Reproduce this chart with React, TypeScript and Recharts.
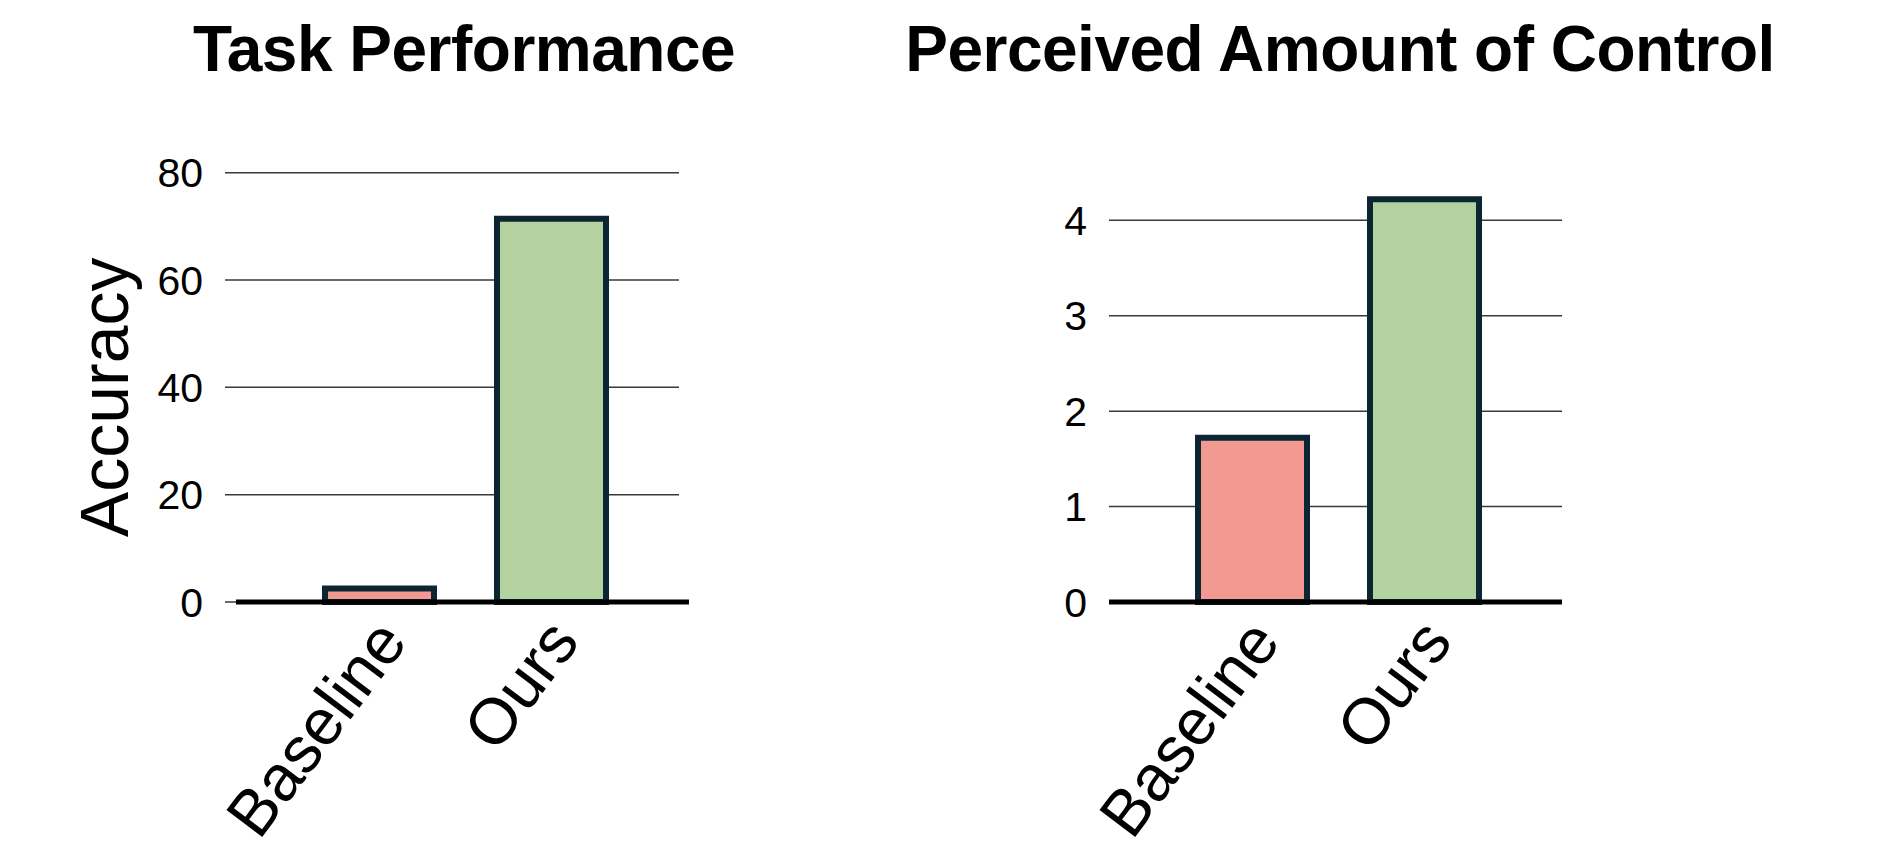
import React from 'react'
import { BarChart, Bar, Cell, XAxis, YAxis, CartesianGrid } from 'recharts'

const categories = ['Baseline', 'Ours']
const accuracyValues = [2.5, 71.4]
const controlValues = [1.72, 4.22]
const accuracyTicks = [0, 20, 40, 60, 80]
const controlTicks = [0, 1, 2, 3, 4]
const barColors = ['#f29a92', '#b3d29f']

const FONT = '"Liberation Sans", Arial, sans-serif'
const BAR_STROKE = '#0b2532'

const toRows = (values: number[]) => categories.map((name, i) => ({ name, value: values[i] }))

const CategoryTick = ({ x, y, payload }: { x?: number; y?: number; payload?: { value: string } }) => (
  <g transform={`translate(${(x ?? 0) + 30},${(y ?? 0) + 40})`}>
    <text
      x={0}
      y={0}
      textAnchor="end"
      transform="rotate(-53)"
      fontFamily={FONT}
      fontSize={65}
      fill="#000"
    >
      {payload?.value}
    </text>
  </g>
)

const YTitle = ({ viewBox, text, cx }: { viewBox?: { y: number; height: number }; text: string; cx: number }) => {
  const cy = (viewBox?.y ?? 0) + (viewBox?.height ?? 0) / 2 + 10
  return (
    <text
      x={cx}
      y={cy}
      textAnchor="middle"
      transform={`rotate(-90 ${cx} ${cy})`}
      fontFamily={FONT}
      fontSize={68}
      fill="#000"
    >
      {text}
    </text>
  )
}

const titleStyle: React.CSSProperties = {
  position: 'absolute',
  top: 17,
  width: 1000,
  textAlign: 'center',
  fontFamily: FONT,
  fontWeight: 700,
  fontSize: 64,
  lineHeight: '64px',
  letterSpacing: -0.5,
  color: '#000',
  whiteSpace: 'nowrap',
}

interface PanelProps {
  values: number[]
  ticks: number[]
  domainMax: number
  left: number
  width: number
  yAxisWidth: number
  marginTop: number
  marginRight: number
  tickGap: number
  yLabel?: string
  grid?: { x: number; width: number }
}

const Panel: React.FC<PanelProps> = ({
  values, ticks, domainMax, left, width, yAxisWidth, marginTop, marginRight, tickGap, yLabel, grid,
}) => (
  <div style={{ position: 'absolute', left, top: 0 }}>
    <BarChart
      width={width}
      height={853}
      data={toRows(values)}
      margin={{ top: marginTop, right: marginRight, bottom: 0, left: 0 }}
      barCategoryGap={0}
    >
      <CartesianGrid
        vertical={false}
        horizontalValues={ticks}
        stroke="#3a3a3a"
        strokeWidth={1.5}
        {...(grid ?? {})}
      />
      <XAxis
        dataKey="name"
        height={251}
        padding={{ left: 57, right: 52 }}
        axisLine={{ stroke: '#000', strokeWidth: 5 }}
        tickLine={false}
        tickSize={0}
        tickMargin={0}
        interval={0}
        tick={<CategoryTick />}
      />
      <YAxis
        width={yAxisWidth}
        domain={[0, domainMax]}
        ticks={ticks}
        axisLine={false}
        tickLine={false}
        tickSize={0}
        tickMargin={tickGap}
        tick={{ fontFamily: FONT, fontSize: 41, fill: '#000' }}
        label={yLabel ? (p: any) => <YTitle {...p} text={yLabel} cx={128} /> : undefined}
      />
      <Bar
        dataKey="value"
        barSize={109}
        stroke={BAR_STROKE}
        strokeWidth={6}
        isAnimationActive={false}
      >
        {values.map((_, i) => (
          <Cell key={categories[i]} fill={barColors[i]} />
        ))}
      </Bar>
    </BarChart>
  </div>
)

export default function App() {
  return (
    <div style={{ position: 'absolute', left: 0, top: 0, width: 1877, height: 853, background: '#fff', overflow: 'hidden' }}>
      <div style={{ ...titleStyle, left: 464 - 500 }}>Task Performance</div>
      <div style={{ ...titleStyle, left: 1340 - 500 }}>Perceived Amount of Control</div>
      <Panel
        values={accuracyValues}
        ticks={accuracyTicks}
        domainMax={80}
        left={0}
        width={940}
        yAxisWidth={236}
        marginTop={172.7}
        marginRight={251}
        tickGap={33}
        yLabel="Accuracy"
        grid={{ x: 225, width: 454 }}
      />
      <Panel
        values={controlValues}
        ticks={controlTicks}
        domainMax={4.4}
        left={870}
        width={1007}
        yAxisWidth={239}
        marginTop={182.1}
        marginRight={315}
        tickGap={22}
      />
    </div>
  )
}
